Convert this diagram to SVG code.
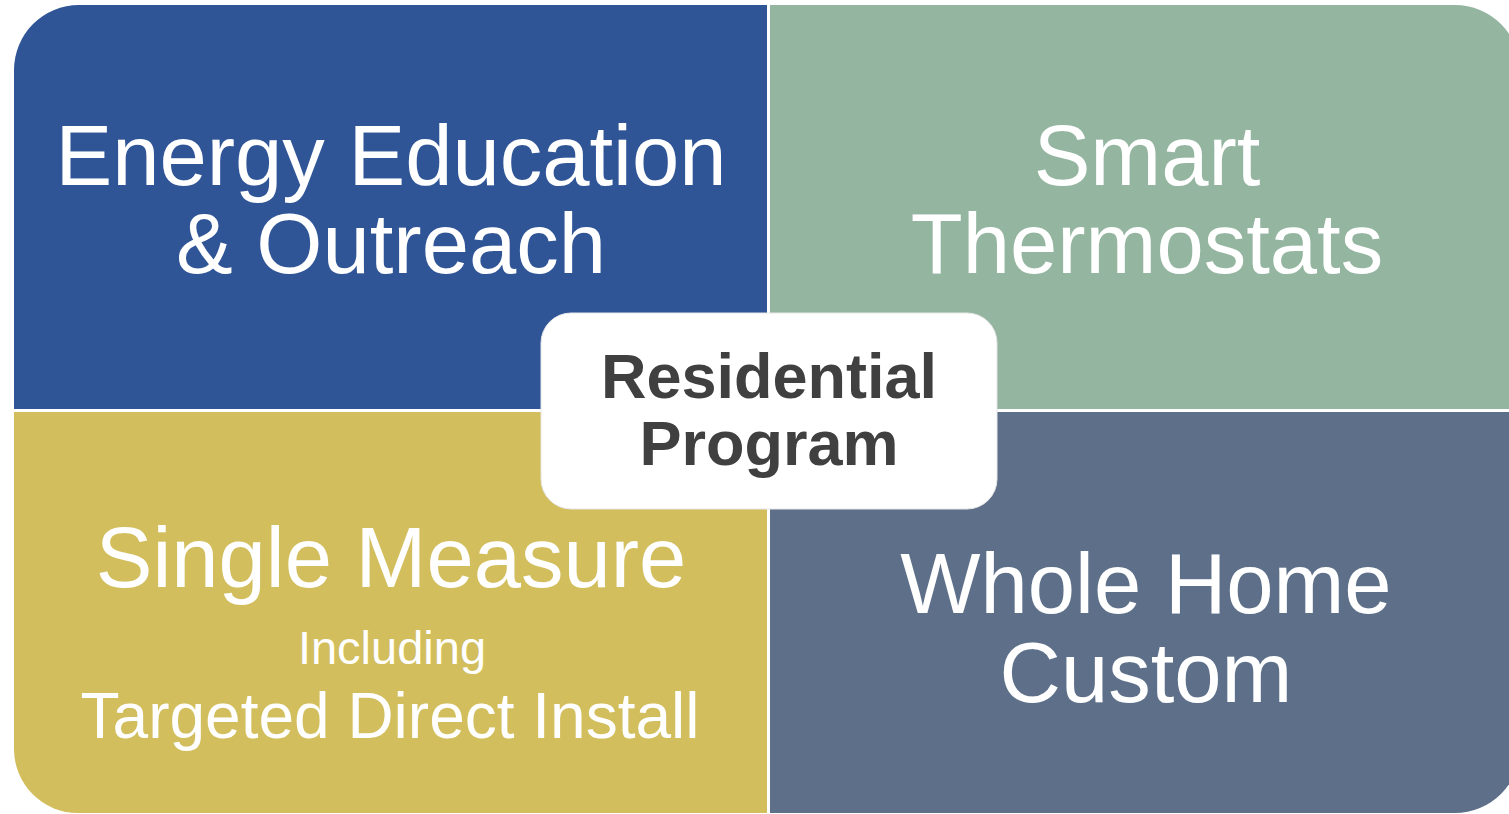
<svg xmlns="http://www.w3.org/2000/svg" width="1509" height="814" viewBox="0 0 1509 814">
<style>
.lbl{font-family:"Liberation Sans",Arial,sans-serif;fill:#ffffff;text-anchor:middle}
.big{font-size:85px}
.ctr{font-family:"Liberation Sans",Arial,sans-serif;font-weight:bold;font-size:63px;fill:#404040;text-anchor:middle}
</style>
<rect x="0" y="0" width="1509" height="814" fill="#ffffff"/>
<g id="energy-education">
<path d="M14,70 A65,65 0 0 1 79,5 L767,5 L767,409 L14,409 Z" fill="#2F5597"/>
<text class="lbl big" x="391" y="185">Energy Education</text>
<text class="lbl big" x="391" y="273">&amp; Outreach</text>
</g>
<g id="smart-thermostats">
<path d="M770,5 L1455,5 A65,65 0 0 1 1520,70 L1520,409 L770,409 Z" fill="#94B5A0"/>
<text class="lbl big" x="1147" y="185">Smart</text>
<text class="lbl big" x="1147" y="273">Thermostats</text>
</g>
<g id="single-measure">
<path d="M14,412 L767,412 L767,813 L78,813 A64,64 0 0 1 14,749 Z" fill="#D2BE5C"/>
<text class="lbl big" x="391" y="587">Single Measure</text>
<text class="lbl" x="392" y="664" font-size="47">Including</text>
<text class="lbl" x="390" y="738" font-size="64">Targeted Direct Install</text>
</g>
<g id="whole-home">
<path d="M770,412 L1520,412 L1520,748 A65,65 0 0 1 1455,813 L770,813 Z" fill="#5E7089"/>
<text class="lbl big" x="1146" y="613">Whole Home</text>
<text class="lbl big" x="1146" y="702">Custom</text>
</g>
<g id="residential-program">
<rect x="541" y="313" width="456" height="196" rx="30" ry="30" fill="#ffffff" stroke="#e6e6e6" stroke-width="1"/>
<text class="ctr" x="769" y="398">Residential</text>
<text class="ctr" x="769" y="465">Program</text>
</g>
<g id="connectors"></g>
</svg>
